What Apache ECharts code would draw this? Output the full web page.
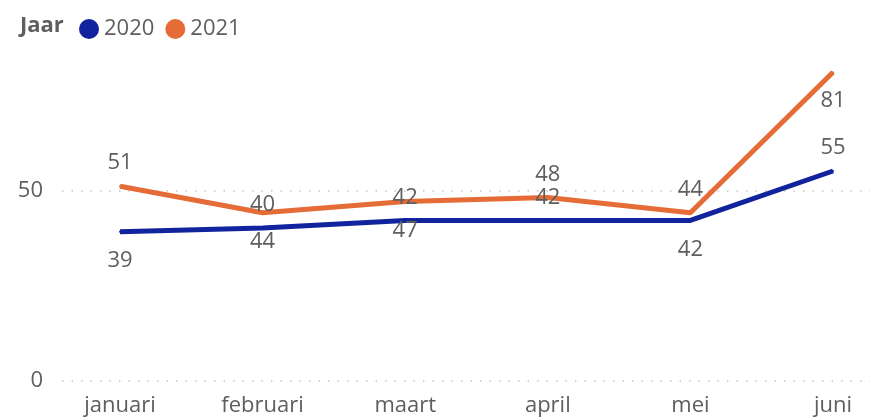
<!DOCTYPE html>
<html>
<head>
<meta charset="utf-8">
<script src="https://cdn.jsdelivr.net/npm/echarts@6/dist/echarts.min.js"></script>
<style>
html,body{margin:0;padding:0;background:#fff;}
#chart{width:881px;height:417px;}
</style>
</head>
<body>
<div id="chart"></div>
<script>
const categories = ['januari', 'februari', 'maart', 'april', 'mei', 'juni'];
const seriesNames = ['2020', '2021'];
const values2020 = [39, 40, 42, 42, 42, 55];
const values2021 = [51, 44, 47, 48, 44, 81];
const yTicks = [0, 50];

// label placement (style)
const labelPos2020 = ['bottom', 'top', 'top', 'top', 'bottom', 'top'];
const labelPos2021 = ['top', 'bottom', 'bottom', 'top', 'top', 'bottom'];

const FONT = '"Open Sans", "Segoe UI", sans-serif';
const TXT = '#605E5C';
const COLORS = ['#12239E', '#E66C37'];

function makeData(vals, pos) {
  return vals.map((v, i) => ({
    value: v,
    label: { position: pos[i], distance: pos[i] === 'top' ? 11 : 17 }
  }));
}

const chart = echarts.init(document.getElementById('chart'), null, { renderer: 'canvas' });
const option = {
  animation: false,
  title: {
    text: 'Jaar', left: 15, top: 10,
    textStyle: { fontFamily: FONT, fontSize: 22, fontWeight: 'bold', color: TXT }
  },
  legend: {
    data: seriesNames, left: 74, top: 13, icon: 'circle',
    itemWidth: 20, itemHeight: 20, itemGap: 11,
    textStyle: { fontFamily: FONT, fontSize: 22, color: TXT }
  },
  grid: [
    { left: 62, right: 11, top: -2, bottom: 36 },
    { left: 120, right: 48, top: -2, bottom: 36 }
  ],
  xAxis: [
    { gridIndex: 0, type: 'value', show: false, min: 0, max: 1 },
    {
      gridIndex: 1, type: 'category', data: categories, boundaryGap: false,
      axisLine: { show: false }, axisTick: { show: false },
      axisLabel: { fontFamily: FONT, fontSize: 22, color: TXT, margin: 15 }
    }
  ],
  yAxis: [
    {
      gridIndex: 0, type: 'value', min: 0, max: 100, interval: 50,
      axisLine: { show: false }, axisTick: { show: false },
      axisLabel: {
        fontFamily: FONT, fontSize: 22, color: TXT, margin: 19, showMaxLabel: false,
        formatter: v => (yTicks.indexOf(v) >= 0 ? String(v) : '')
      },
      splitLine: { showMaxLine: false, lineStyle: { color: '#C8C6C4', width: 1.5, type: [1.5, 8] } }
    },
    {
      gridIndex: 1, type: 'value', min: 0, max: 100, interval: 50, show: false,
      splitLine: { show: false }
    }
  ],
  series: [
    {
      name: seriesNames[0], type: 'line', xAxisIndex: 1, yAxisIndex: 1,
      data: makeData(values2020, labelPos2020),
      symbol: 'circle', symbolSize: 2, showSymbol: true,
      lineStyle: { width: 5, color: COLORS[0] }, itemStyle: { color: COLORS[0] },
      label: { show: true, fontFamily: FONT, fontSize: 22, color: TXT },
      emphasis: { disabled: true }
    },
    {
      name: seriesNames[1], type: 'line', xAxisIndex: 1, yAxisIndex: 1,
      data: makeData(values2021, labelPos2021),
      symbol: 'circle', symbolSize: 2, showSymbol: true,
      lineStyle: { width: 5, color: COLORS[1] }, itemStyle: { color: COLORS[1] },
      label: { show: true, fontFamily: FONT, fontSize: 22, color: TXT },
      emphasis: { disabled: true }
    }
  ]
};
chart.setOption(option);
</script>
</body>
</html>
